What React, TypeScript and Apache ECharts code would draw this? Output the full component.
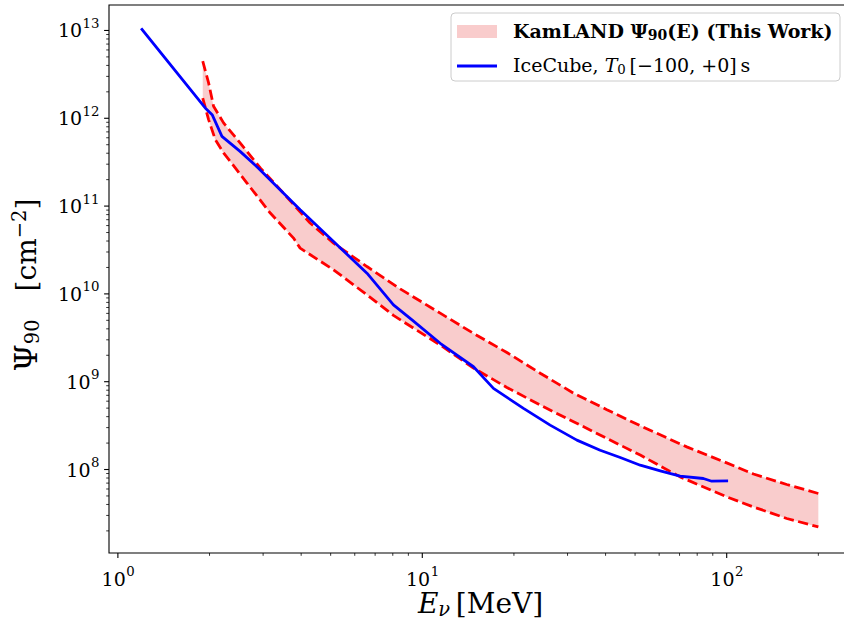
import React, { useEffect, useRef } from 'react';
import * as echarts from 'echarts';

const FONT = 'DejaVu Serif';

// KamLAND band, upper edge
const UPPER_E = [1.9, 1.986, 2.062, 2.224, 2.52, 2.936, 3.415, 4.28, 5.11, 6.58, 8.46, 11.45, 14.73, 18.96, 24.4, 31.4, 40.4, 52, 73.9, 100, 122.4, 157.5, 200];
const UPPER_PSI = [4.47e12, 2.53e12, 1.37e12, 8.86e11, 5.24e11, 2.72e11, 1.54e11, 6.41e10, 3.79e10, 2.05e10, 1.14e10, 6.03e9, 3.55e9, 2.15e9, 1.25e9, 7.4e8, 4.8e8, 3.15e8, 1.81e8, 1.19e8, 8.9e7, 6.75e7, 5.33e7];

// KamLAND band, lower edge
const LOWER_E = [1.9, 1.986, 2.089, 2.224, 2.43, 2.655, 3.166, 3.776, 3.97, 5.11, 6.58, 8.04, 11.45, 14.73, 18.96, 24.4, 31.4, 40.4, 52, 70.3, 100, 122.4, 157.5, 200];
const LOWER_PSI = [1.7e12, 9.66e11, 5.71e11, 4.03e11, 2.72e11, 1.83e11, 8.33e10, 4.32e10, 3.32e10, 1.88e10, 9.75e9, 5.69e9, 2.62e9, 1.43e9, 8.6e8, 5.42e8, 3.5e8, 2.26e8, 1.46e8, 8.24e7, 4.88e7, 3.75e7, 2.77e7, 2.22e7];

// IceCube T0[-100,+0] s
const ICE_E = [1.2, 1.936, 2.04, 2.197, 2.52, 2.89, 3.97, 5.11, 6.58, 8.04, 9.25, 11.45, 14.73, 17.13, 21.5, 26.3, 32.2, 38.4, 44.7, 52, 60.5, 70.3, 83.8, 89.3, 100];
const ICE_PSI = [1.03e13, 1.31e12, 1.1e12, 6.23e11, 4.2e11, 2.72e11, 9.08e10, 3.95e10, 1.72e10, 7.5e9, 5.06e9, 2.74e9, 1.48e9, 8.4e8, 4.97e8, 3.2e8, 2.16e8, 1.66e8, 1.37e8, 1.12e8, 9.65e7, 8.39e7, 7.9e7, 7.36e7, 7.4e7];

// Axis ranges and ticks
const X_MIN = 0.935;
const X_MAX = 258;
const Y_MIN = 1.12e7;
const Y_MAX = 1.95e13;
const X_MAJOR = [1, 10, 100];
const X_MINOR = [2, 3, 4, 5, 6, 7, 8, 9, 20, 30, 40, 50, 60, 70, 80, 90, 200];
const Y_MAJOR = [1e8, 1e9, 1e10, 1e11, 1e12, 1e13];
const Y_MINOR_MANT = [2, 3, 4, 5, 6, 7, 8, 9];
const Y_DECADES = [1e7, 1e8, 1e9, 1e10, 1e11, 1e12];

const RED = '#ff0000';
const BLUE = '#0000ff';
const FILL = '#f9cccc';

const BASE_FS = 19;
const SUP_FS = 13.3;
const DIGIT_EM = 0.636;

function zip(a: number[], b: number[]) {
  return a.map((v, i) => [v, b[i]]);
}

function legendGraphics() {
  return [
    {
      id: 'lg-box',
      type: 'rect',
      z: 100,
      shape: { x: 451, y: 13, width: 389, height: 68, r: 4 },
      style: { fill: 'rgba(255,255,255,0.8)', stroke: '#cccccc', lineWidth: 1 },
    },
    {
      id: 'lg-patch',
      type: 'rect',
      z: 101,
      shape: { x: 457, y: 25, width: 40, height: 13 },
      style: { fill: FILL },
    },
    {
      id: 'lg-line',
      type: 'line',
      z: 101,
      shape: { x1: 457, y1: 66, x2: 497, y2: 66 },
      style: { stroke: BLUE, lineWidth: 2.78 },
    },
    {
      id: 'lg-t1',
      type: 'text',
      z: 101,
      x: 513,
      y: 31,
      style: {
        text: '{b|KamLAND Ψ}{bs|90}{b|(E) (This Work)}',
        verticalAlign: 'middle',
        align: 'left',
        fill: '#000',
        fontFamily: FONT,
        fontSize: 19,
        fontWeight: 'bold',
        rich: {
          b: { fontFamily: FONT, fontSize: 19, fontWeight: 'bold', fill: '#000' },
          bs: { fontFamily: FONT, fontSize: 14, fontWeight: 'bold', fill: '#000', padding: [8, 0, 0, 0] },
        },
      },
    },
    {
      id: 'lg-t2',
      type: 'text',
      z: 101,
      x: 513,
      y: 65,
      style: {
        text: '{n|IceCube, }{i|T}{s|0}{n|\u2009[−100, +0]\u2009s}',
        verticalAlign: 'middle',
        align: 'left',
        fill: '#000',
        fontFamily: FONT,
        fontSize: 19,
        rich: {
          n: { fontFamily: FONT, fontSize: 19, fill: '#000' },
          i: { fontFamily: FONT, fontSize: 19, fontStyle: 'italic', fill: '#000' },
          s: { fontFamily: FONT, fontSize: 13.3, fill: '#000', padding: [8, 0, 0, 0] },
        },
      },
    },
  ];
}

export default function App() {
  const ref = useRef<HTMLDivElement>(null);
  useEffect(() => {
    const chart = echarts.init(ref.current!, null, { renderer: 'svg' });

    const yMinor: number[] = [];
    Y_DECADES.forEach((d) => Y_MINOR_MANT.forEach((m) => {
      const v = d * m;
      if (v > Y_MIN && v < Y_MAX) yMinor.push(v);
    }));
    const tickData = [
      ...X_MAJOR.map((v) => [v, Y_MIN, 1, 0]),
      ...X_MINOR.map((v) => [v, Y_MIN, 0, 0]),
      ...Y_MAJOR.map((v) => [X_MIN, v, 1, 1]),
      ...yMinor.map((v) => [X_MIN, v, 0, 1]),
    ];

    const option: any = {
      animation: false,
      backgroundColor: '#ffffff',
      grid: {
        left: 109,
        top: 5,
        right: -8,
        bottom: 71,
        containLabel: false,
        outerBoundsMode: 'none',
        show: true,
        borderColor: '#000',
        borderWidth: 1.1,
        backgroundColor: 'transparent',
      },
      xAxis: {
        type: 'log',
        logBase: 10,
        min: X_MIN,
        max: X_MAX,
        axisLine: { show: false },
        axisTick: { show: false },
        splitLine: { show: false },
        minorTick: { show: false },
        minorSplitLine: { show: false },
        axisLabel: { show: false },
        name: '{i|E}{s|ν}{n|\u2009[MeV]}',
        nameLocation: 'middle',
        nameGap: 34,
        nameTextStyle: {
          fontFamily: FONT,
          fontSize: 28,
          color: '#000',
          rich: {
            i: { fontFamily: FONT, fontSize: 28, fontStyle: 'italic', color: '#000' },
            s: { fontFamily: FONT, fontSize: 19.5, fontStyle: 'italic', color: '#000', padding: [12, 0, 0, 0] },
            n: { fontFamily: FONT, fontSize: 28, color: '#000' },
          },
        },
      },
      yAxis: {
        type: 'log',
        logBase: 10,
        min: Y_MIN,
        max: Y_MAX,
        axisLine: { show: false },
        axisTick: { show: false },
        splitLine: { show: false },
        minorTick: { show: false },
        minorSplitLine: { show: false },
        axisLabel: { show: false },
        name: '{g|Ψ}{s|90}{n|\u2003[cm}{p|−2}{n|]}',
        nameLocation: 'middle',
        nameGap: 66,
        nameTextStyle: {
          fontFamily: FONT,
          fontSize: 28,
          color: '#000',
          padding: [0, 12, 0, 0],
          rich: {
            g: { fontFamily: FONT, fontSize: 31, color: '#000' },
            n: { fontFamily: FONT, fontSize: 28, color: '#000' },
            s: { fontFamily: FONT, fontSize: 19.5, color: '#000', padding: [12, 0, 0, 0] },
            p: { fontFamily: FONT, fontSize: 19.5, color: '#000', padding: [0, 0, 14, 0] },
          },
        },
      },
      series: [
        {
          type: 'custom',
          name: 'band',
          z: 1,
          silent: true,
          clip: true,
          data: [[UPPER_E[0], UPPER_PSI[0]]],
          renderItem: (params: any, api: any) => {
            if (params.dataIndex !== 0) return null;
            const pts: number[][] = [];
            for (let i = 0; i < UPPER_E.length; i++) pts.push(api.coord([UPPER_E[i], UPPER_PSI[i]]));
            for (let i = LOWER_E.length - 1; i >= 0; i--) pts.push(api.coord([LOWER_E[i], LOWER_PSI[i]]));
            return { type: 'polygon', shape: { points: pts }, style: { fill: FILL, stroke: 'none' } };
          },
        },
        {
          type: 'line',
          name: 'upper',
          z: 2,
          silent: true,
          symbol: 'none',
          data: zip(UPPER_E, UPPER_PSI),
          lineStyle: { color: RED, width: 2.78, type: [10.3, 4.45], cap: 'butt' },
        },
        {
          type: 'line',
          name: 'lower',
          z: 2,
          silent: true,
          symbol: 'none',
          data: zip(LOWER_E, LOWER_PSI),
          lineStyle: { color: RED, width: 2.78, type: [10.3, 4.45], cap: 'butt' },
        },
        {
          type: 'line',
          name: 'IceCube',
          z: 3,
          silent: true,
          symbol: 'none',
          data: zip(ICE_E, ICE_PSI),
          lineStyle: { color: BLUE, width: 2.78, cap: 'square', join: 'round' },
        },
        {
          type: 'custom',
          name: 'ticks',
          z: 5,
          silent: true,
          clip: false,
          dimensions: ['x', 'y', 'major', 'axis'],
          encode: { x: 0, y: 1 },
          data: tickData,
          renderItem: (params: any, api: any) => {
            const p = api.coord([api.value(0), api.value(1)]);
            const major = api.value(2) === 1;
            const isY = api.value(3) === 1;
            const len = major ? 4.9 : 2.8;
            const shape = isY
              ? { x1: p[0], y1: p[1], x2: p[0] - len, y2: p[1] }
              : { x1: p[0], y1: p[1], x2: p[0], y2: p[1] + len };
            return { type: 'line', shape, style: { stroke: '#000', lineWidth: major ? 1.1 : 0.8 } };
          },
        },
      ],
      graphic: legendGraphics(),
    };
    chart.setOption(option);

    // Tick labels placed with the chart's own axis scales
    const labels: any[] = [];
    const baseW = 2 * DIGIT_EM * BASE_FS;
    X_MAJOR.forEach((v, i) => {
      const px = chart.convertToPixel({ xAxisIndex: 0 }, v) as number;
      const py = chart.convertToPixel({ yAxisIndex: 0 }, Y_MIN) as number;
      const exp = String(Math.round(Math.log10(v)));
      const expW = exp.length * DIGIT_EM * SUP_FS;
      const splitX = px - (baseW + expW) / 2 + baseW;
      labels.push({
        id: `xl-b-${i}`, type: 'text', z: 50, x: splitX, y: py + 26,
        style: { text: '10', align: 'right', verticalAlign: 'middle', fontFamily: FONT, fontSize: BASE_FS, fill: '#000' },
      });
      labels.push({
        id: `xl-e-${i}`, type: 'text', z: 50, x: splitX + 0.5, y: py + 18.5,
        style: { text: exp, align: 'left', verticalAlign: 'middle', fontFamily: FONT, fontSize: SUP_FS, fill: '#000' },
      });
    });
    Y_MAJOR.forEach((v, i) => {
      const px = chart.convertToPixel({ xAxisIndex: 0 }, X_MIN) as number;
      const py = chart.convertToPixel({ yAxisIndex: 0 }, v) as number;
      const exp = String(Math.round(Math.log10(v)));
      const expW = exp.length * DIGIT_EM * SUP_FS;
      const splitX = px - 10 - expW;
      labels.push({
        id: `yl-b-${i}`, type: 'text', z: 50, x: splitX, y: py,
        style: { text: '10', align: 'right', verticalAlign: 'middle', fontFamily: FONT, fontSize: BASE_FS, fill: '#000' },
      });
      labels.push({
        id: `yl-e-${i}`, type: 'text', z: 50, x: splitX + 0.5, y: py - 7,
        style: { text: exp, align: 'left', verticalAlign: 'middle', fontFamily: FONT, fontSize: SUP_FS, fill: '#000' },
      });
    });
    chart.setOption({ graphic: [...legendGraphics(), ...labels] });

    return () => chart.dispose();
  }, []);
  return (
    <div
      ref={ref}
      style={{ position: 'fixed', left: 0, top: 0, width: 844, height: 624, background: '#fff' }}
    />
  );
}
